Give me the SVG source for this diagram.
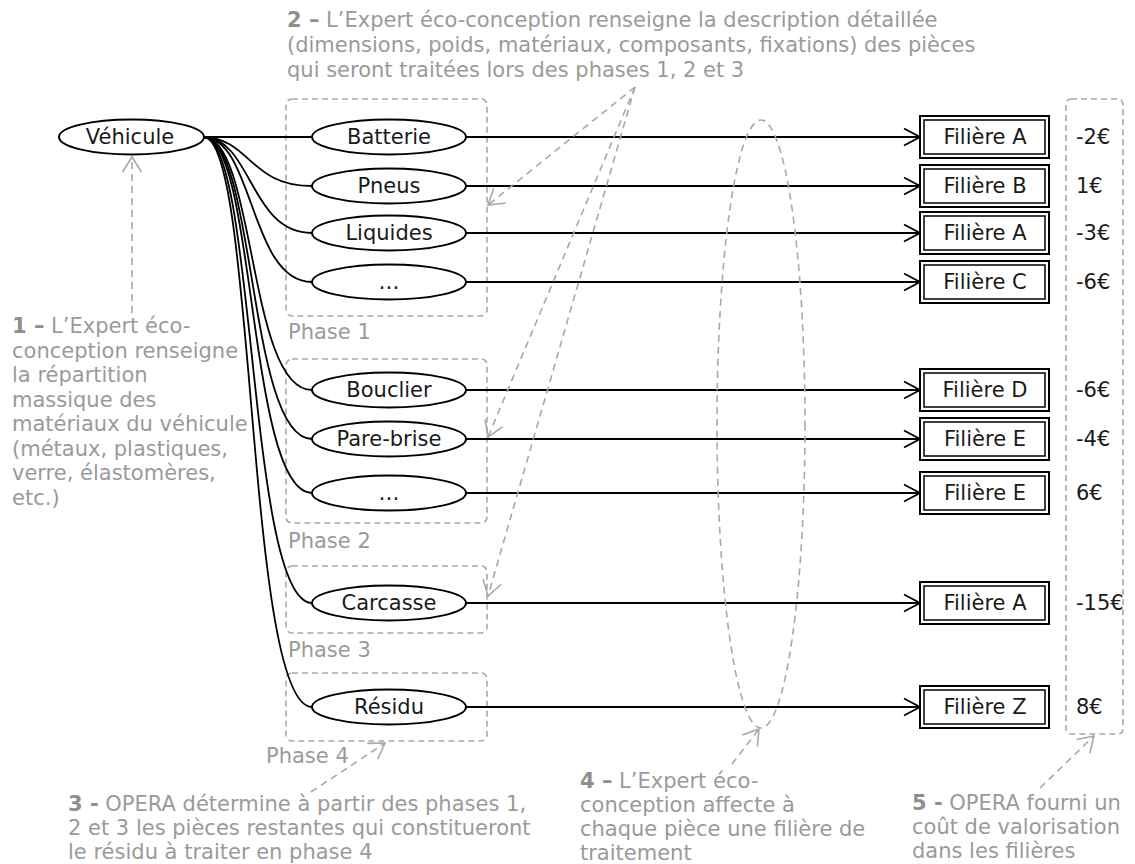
<svg xmlns="http://www.w3.org/2000/svg" width="1135" height="864" viewBox="0 0 1135 864">
<style>
text{font-family:"DejaVu Sans","Liberation Sans",sans-serif;font-size:21px}
.n{fill:#1a1a1a;text-anchor:middle}
.g{fill:#9a9a9a}
.b{font-weight:bold;fill:#8e8e8e}
.c{fill:#1a1a1a}
.el{fill:#fff;stroke:#000;stroke-width:2}
.ph{fill:none;stroke:#a8a8a8;stroke-width:1.6;stroke-dasharray:6 4}
.o{fill:#fff;stroke:#000;stroke-width:2}
.i{fill:none;stroke:#000;stroke-width:1.5}
.k{fill:none;stroke:#000;stroke-width:1.8}
.d{fill:none;stroke:#a8a8a8;stroke-width:1.6;stroke-dasharray:7 5}
</style>
<defs>
<marker id="ab" viewBox="-18 -10 19 20" refX="0" refY="0" markerWidth="19" markerHeight="20" markerUnits="userSpaceOnUse" orient="auto">
<path d="M-16,-8.5 L0,0 L-16,8.5" fill="none" stroke="#000" stroke-width="1.8"/>
</marker>
<marker id="ag" viewBox="-17 -11 18 22" refX="0" refY="0" markerWidth="18" markerHeight="22" markerUnits="userSpaceOnUse" orient="auto">
<path d="M-15,-9.5 L0,0 L-15,9.5" fill="none" stroke="#a8a8a8" stroke-width="1.6"/>
</marker>
</defs>

<g id="phases">
<rect class="ph" x="286" y="99" width="201" height="217" rx="6"/>
<rect class="ph" x="286" y="359" width="201" height="164" rx="6"/>
<rect class="ph" x="286" y="566" width="201" height="67" rx="6"/>
<rect class="ph" x="286" y="673" width="201" height="68" rx="6"/>
<rect class="ph" x="1066" y="99" width="57" height="635" rx="5"/>
<text class="g" x="288" y="339">Phase 1</text>
<text class="g" x="288" y="548">Phase 2</text>
<text class="g" x="288" y="657">Phase 3</text>
<text class="g" x="266" y="763">Phase 4</text>
</g>

<g id="connectors">
<path class="k" d="M204,137 L312,137"/>
<path class="k" d="M204,137 C250,139 250,186 312,186"/>
<path class="k" d="M204,137 C252,139 250,233 312,233"/>
<path class="k" d="M204,137 C254,139 250,282 312,282"/>
<path class="k" d="M204,137 C256,140 248,390 312,390"/>
<path class="k" d="M204,137 C256,140 248,439 312,439"/>
<path class="k" d="M204,137 C256,140 248,493 312,493"/>
<path class="k" d="M204,137 C256,140 248,603 312,603"/>
<path class="k" d="M204,137 C256,140 246,707 312,707"/>
<path class="k" d="M466,137 L920,137" marker-end="url(#ab)"/>
<path class="k" d="M466,186 L920,186" marker-end="url(#ab)"/>
<path class="k" d="M466,233 L920,233" marker-end="url(#ab)"/>
<path class="k" d="M466,282 L920,282" marker-end="url(#ab)"/>
<path class="k" d="M466,390 L920,390" marker-end="url(#ab)"/>
<path class="k" d="M466,439 L920,439" marker-end="url(#ab)"/>
<path class="k" d="M466,493 L920,493" marker-end="url(#ab)"/>
<path class="k" d="M466,603 L920,603" marker-end="url(#ab)"/>
<path class="k" d="M466,707 L920,707" marker-end="url(#ab)"/>
<path class="d" d="M132,313 L132,157" marker-end="url(#ag)"/>
<path class="d" d="M635,87 L488,205" marker-end="url(#ag)"/>
<path class="d" d="M635,87 L488,437" marker-end="url(#ag)"/>
<path class="d" d="M635,87 L488,596" marker-end="url(#ag)"/>
<ellipse class="d" cx="761" cy="424" rx="44" ry="304"/>
<path class="d" d="M311,792 L385,743" marker-end="url(#ag)"/>
<path class="d" d="M732,764 L759,729" marker-end="url(#ag)"/>
<path class="d" d="M1040,788 L1094,736" marker-end="url(#ag)"/>
</g>

<g id="vehicule"><ellipse class="el" cx="131.5" cy="137" rx="72.5" ry="17.5"/><text class="n" x="130" y="144">Véhicule</text></g>
<g id="batterie"><ellipse class="el" cx="389" cy="137" rx="77" ry="17.5"/><text class="n" x="389" y="144">Batterie</text></g>
<g id="pneus"><ellipse class="el" cx="389" cy="186" rx="77" ry="17.5"/><text class="n" x="389" y="193">Pneus</text></g>
<g id="liquides"><ellipse class="el" cx="389" cy="233" rx="77" ry="17.5"/><text class="n" x="389" y="240">Liquides</text></g>
<g id="autres1"><ellipse class="el" cx="389" cy="282" rx="77" ry="17.5"/><text class="n" x="389" y="289">…</text></g>
<g id="bouclier"><ellipse class="el" cx="389" cy="390" rx="77" ry="17.5"/><text class="n" x="389" y="397">Bouclier</text></g>
<g id="parebrise"><ellipse class="el" cx="389" cy="439" rx="77" ry="17.5"/><text class="n" x="389" y="446">Pare-brise</text></g>
<g id="autres2"><ellipse class="el" cx="389" cy="493" rx="77" ry="17.5"/><text class="n" x="389" y="500">…</text></g>
<g id="carcasse"><ellipse class="el" cx="389" cy="603" rx="77" ry="17.5"/><text class="n" x="389" y="610">Carcasse</text></g>
<g id="residu"><ellipse class="el" cx="389" cy="707" rx="77" ry="17.5"/><text class="n" x="389" y="714">Résidu</text></g>

<g id="f1"><rect class="o" x="920" y="116" width="129" height="42"/><rect class="i" x="924" y="120" width="121" height="34"/><text class="n" x="985" y="144">Filière A</text></g>
<g id="f2"><rect class="o" x="920" y="165" width="129" height="42"/><rect class="i" x="924" y="169" width="121" height="34"/><text class="n" x="985" y="193">Filière B</text></g>
<g id="f3"><rect class="o" x="920" y="212" width="129" height="42"/><rect class="i" x="924" y="216" width="121" height="34"/><text class="n" x="985" y="240">Filière A</text></g>
<g id="f4"><rect class="o" x="920" y="261" width="129" height="42"/><rect class="i" x="924" y="265" width="121" height="34"/><text class="n" x="985" y="289">Filière C</text></g>
<g id="f5"><rect class="o" x="920" y="369" width="129" height="42"/><rect class="i" x="924" y="373" width="121" height="34"/><text class="n" x="985" y="397">Filière D</text></g>
<g id="f6"><rect class="o" x="920" y="418" width="129" height="42"/><rect class="i" x="924" y="422" width="121" height="34"/><text class="n" x="985" y="446">Filière E</text></g>
<g id="f7"><rect class="o" x="920" y="472" width="129" height="42"/><rect class="i" x="924" y="476" width="121" height="34"/><text class="n" x="985" y="500">Filière E</text></g>
<g id="f8"><rect class="o" x="920" y="582" width="129" height="42"/><rect class="i" x="924" y="586" width="121" height="34"/><text class="n" x="985" y="610">Filière A</text></g>
<g id="f9"><rect class="o" x="920" y="686" width="129" height="42"/><rect class="i" x="924" y="690" width="121" height="34"/><text class="n" x="985" y="714">Filière Z</text></g>

<g id="couts">
<text class="c" x="1076" y="144">-2€</text>
<text class="c" x="1076" y="193">1€</text>
<text class="c" x="1076" y="240">-3€</text>
<text class="c" x="1076" y="289">-6€</text>
<text class="c" x="1076" y="397">-6€</text>
<text class="c" x="1076" y="446">-4€</text>
<text class="c" x="1076" y="500">6€</text>
<text class="c" x="1076" y="610">-15€</text>
<text class="c" x="1076" y="714">8€</text>
</g>

<g id="note1" class="g">
<text x="12" y="333"><tspan class="b">1 –</tspan> L’Expert éco-</text>
<text x="12" y="357.5">conception renseigne</text>
<text x="12" y="382">la répartition</text>
<text x="12" y="406.5">massique des</text>
<text x="12" y="431">matériaux du véhicule</text>
<text x="12" y="455.5">(métaux, plastiques,</text>
<text x="12" y="480">verre, élastomères,</text>
<text x="12" y="504.5">etc.)</text>
</g>
<g id="note2" class="g">
<text x="287" y="27"><tspan class="b">2 –</tspan> L’Expert éco-conception renseigne la description détaillée</text>
<text x="287" y="52">(dimensions, poids, matériaux, composants, fixations) des pièces</text>
<text x="287" y="77">qui seront traitées lors des phases 1, 2 et 3</text>
</g>
<g id="note3" class="g">
<text x="68" y="811"><tspan class="b">3 -</tspan> OPERA détermine à partir des phases 1,</text>
<text x="68" y="835">2 et 3 les pièces restantes qui constitueront</text>
<text x="68" y="859">le résidu à traiter en phase 4</text>
</g>
<g id="note4" class="g">
<text x="580" y="788"><tspan class="b">4 –</tspan> L’Expert éco-</text>
<text x="580" y="812">conception affecte à</text>
<text x="580" y="836">chaque pièce une filière de</text>
<text x="580" y="860">traitement</text>
</g>
<g id="note5" class="g">
<text x="912" y="810"><tspan class="b">5 -</tspan> OPERA fourni un</text>
<text x="912" y="834">coût de valorisation</text>
<text x="912" y="858">dans les filières</text>
</g>
</svg>
